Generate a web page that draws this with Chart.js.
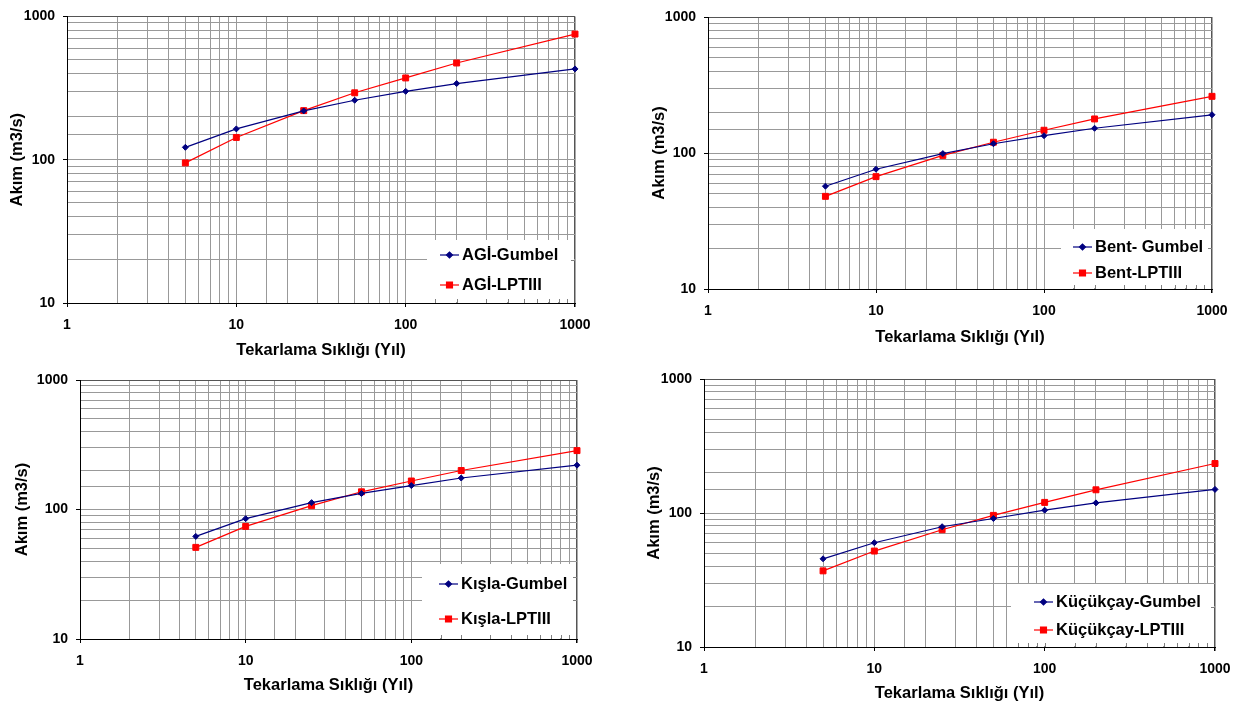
<!DOCTYPE html>
<html>
<head>
<meta charset="utf-8">
<script src="https://cdn.jsdelivr.net/npm/chart.js@4.4.1/dist/chart.umd.min.js"></script>
<style>
  html, body { margin: 0; padding: 0; background: #fff; }
  body { width: 1242px; height: 706px; position: relative; overflow: hidden; }
  .panel { position: absolute; }
  .panel canvas { display: block; }
</style>
</head>
<body>
<div class="panel" style="left:0;top:0"><canvas id="agi" width="620" height="360"></canvas></div>
<div class="panel" style="left:620px;top:0"><canvas id="bent" width="622" height="360"></canvas></div>
<div class="panel" style="left:0;top:360px"><canvas id="kisla" width="620" height="346"></canvas></div>
<div class="panel" style="left:620px;top:360px"><canvas id="kucukcay" width="622" height="346"></canvas></div>
<script>
// return periods (years)
const periods = [5, 10, 25, 50, 100, 200, 1000];
const xTickLabels = ['1', '10', '100', '1000'];
const yTickLabels = ['10', '100', '1000'];

// flows (m3/s)
const agiGumbel = [122, 164, 219, 260, 300, 340, 430];
const agiLpt = [95, 143, 220, 293, 372, 473, 753];
const bentGumbel = [57, 76, 99, 117, 134, 152, 191];
const bentLpt = [48, 67, 96, 120, 147, 178, 261];
const kislaGumbel = [62, 85, 113, 133, 153, 175, 220];
const kislaLpt = [51, 74, 107, 137, 166, 200, 285];
const kucukGumbel = [45.5, 60, 79, 91, 105, 119, 150];
const kucukLpt = [37, 52, 75, 96, 120, 149, 234];

const xTitle = 'Tekarlama Sıklığı (Yıl)';
const yTitle = 'Akım (m3/s)';

const FONT = '"Liberation Sans", Arial, sans-serif';
const GRID = '#999999';

const isDecade = v => [1, 10, 100, 1000].includes(v);

// legend drawn inside the plot area, bottom right corner, on white
const insetLegend = {
    id: 'insetLegend',
    afterDraw(chart, args, opts) {
        const { ctx, chartArea: a } = chart;
        const left = a.right - opts.w;
        const top = a.bottom - opts.h;
        ctx.save();
        ctx.fillStyle = '#fff';
        ctx.fillRect(left, top, opts.w - 1, opts.h - 1);

        // small inner tick marks along bottom and right edges
        ctx.strokeStyle = '#808080';
        ctx.lineWidth = 1;
        chart.scales.x.ticks.forEach(t => {
            const px = Math.round(chart.scales.x.getPixelForValue(t.value)) + 0.5;
            if (px > left && px < a.right - 1) {
                ctx.beginPath();
                ctx.moveTo(px, a.bottom);
                ctx.lineTo(px, a.bottom - 4);
                ctx.stroke();
            }
        });
        chart.scales.y.ticks.forEach(t => {
            const py = Math.round(chart.scales.y.getPixelForValue(t.value)) + 0.5;
            if (py > top && py < a.bottom - 1) {
                ctx.beginPath();
                ctx.moveTo(a.right, py);
                ctx.lineTo(a.right - 4, py);
                ctx.stroke();
            }
        });

        const rows = [opts.row1, opts.row2];
        chart.data.datasets.forEach((ds, i) => {
            const y = top + rows[i];
            const x0 = left + opts.sample;
            ctx.strokeStyle = ds.borderColor;
            ctx.lineWidth = 1.2;
            ctx.beginPath();
            ctx.moveTo(x0, y);
            ctx.lineTo(x0 + 19, y);
            ctx.stroke();
            Chart.helpers.drawPoint(ctx, {
                pointStyle: ds.pointStyle,
                radius: ds.pointRadius,
                borderWidth: 1
            }, x0 + 9.5, y);
            ctx.fillStyle = ds.borderColor;
            ctx.fill();
            ctx.fillStyle = '#000';
            ctx.font = 'bold 16.5px ' + FONT;
            ctx.textBaseline = 'middle';
            ctx.textAlign = 'left';
            ctx.fillText(ds.label, left + opts.text, y);
        });
        ctx.restore();
    }
};

function makeChart(id, names, gumbel, lpt, f) {
    const ctx = document.getElementById(id).getContext('2d');
    return new Chart(ctx, {
        type: 'scatter',
        data: {
            datasets: [{
                label: names[0],
                data: periods.map((p, i) => ({ x: p, y: gumbel[i] })),
                showLine: true,
                clip: false,
                borderColor: '#000080',
                backgroundColor: '#000080',
                borderWidth: 1.2,
                pointStyle: 'rectRot',
                pointRadius: 3,
                pointBorderWidth: 1
            }, {
                label: names[1],
                data: periods.map((p, i) => ({ x: p, y: lpt[i] })),
                showLine: true,
                clip: false,
                borderColor: '#ff0000',
                backgroundColor: '#ff0000',
                borderWidth: 1.2,
                pointStyle: 'rect',
                pointRadius: 4.2,
                pointBorderWidth: 1
            }]
        },
        options: {
            responsive: false,
            animation: false,
            layout: { padding: { left: 0, top: f.top, right: f.right, bottom: 0 } },
            scales: {
                x: {
                    type: 'logarithmic',
                    min: 1,
                    max: 1000,
                    afterFit: s => { s.height = f.xHeight; },
                    border: { color: '#000', width: 1 },
                    grid: {
                        color: c => c.tick && c.tick.value === 1000 ? '#555' : GRID,
                        lineWidth: c => c.tick && c.tick.value === 1000 ? 1.5 : 1,
                        drawTicks: true,
                        tickLength: 4,
                        tickColor: c => c.tick && isDecade(c.tick.value) ? '#000' : 'rgba(0,0,0,0)'
                    },
                    ticks: {
                        autoSkip: false,
                        maxRotation: 0,
                        padding: 10,
                        color: '#000',
                        font: { family: FONT, size: 14, weight: 'bold' },
                        callback: v => xTickLabels.includes(String(v)) ? String(v) : ''
                    },
                    title: {
                        display: true,
                        text: xTitle,
                        color: '#000',
                        font: { family: FONT, size: 16.5, weight: 'bold' },
                        padding: { top: 0, bottom: f.xTitlePad }
                    }
                },
                y: {
                    type: 'logarithmic',
                    min: 10,
                    max: 1000,
                    afterFit: s => { s.width = f.yWidth; },
                    border: { color: '#000', width: 1 },
                    grid: {
                        color: c => c.tick && c.tick.value === 1000 ? '#555' : GRID,
                        drawTicks: true,
                        tickLength: 4,
                        tickColor: c => c.tick && isDecade(c.tick.value) ? '#000' : 'rgba(0,0,0,0)'
                    },
                    ticks: {
                        autoSkip: false,
                        padding: 8,
                        color: '#000',
                        font: { family: FONT, size: 14, weight: 'bold' },
                        callback: v => yTickLabels.includes(String(v)) ? String(v) : ''
                    },
                    title: {
                        display: true,
                        text: yTitle,
                        color: '#000',
                        font: { family: FONT, size: 16.5, weight: 'bold' },
                        padding: { top: f.yTitlePad, bottom: 0 }
                    }
                }
            },
            plugins: {
                legend: { display: false },
                tooltip: { enabled: false },
                insetLegend: f.legend
            }
        },
        plugins: [insetLegend]
    });
}

makeChart('agi', ['AGİ-Gumbel', 'AGİ-LPTIII'], agiGumbel, agiLpt, {
    yWidth: 67, xHeight: 57, top: 16, right: 45, yTitlePad: 8, xTitlePad: 0,
    legend: { w: 148, h: 63, row1: 15, row2: 45, sample: 13, text: 35 }
});
makeChart('bent', ['Bent- Gumbel', 'Bent-LPTIII'], bentGumbel, bentLpt, {
    yWidth: 88, xHeight: 71, top: 17, right: 30, yTitlePad: 30, xTitlePad: 13,
    legend: { w: 151, h: 60, row1: 18, row2: 44, sample: 12, text: 34 }
});
makeChart('kisla', ['Kışla-Gumbel', 'Kışla-LPTIII'], kislaGumbel, kislaLpt, {
    yWidth: 80, xHeight: 67, top: 20, right: 43, yTitlePad: 13, xTitlePad: 11,
    legend: { w: 155, h: 75, row1: 20, row2: 55, sample: 17, text: 39 }
});
makeChart('kucukcay', ['Küçükçay-Gumbel', 'Küçükçay-LPTIII'], kucukGumbel, kucukLpt, {
    yWidth: 84, xHeight: 59, top: 19, right: 27, yTitlePad: 25, xTitlePad: 3,
    legend: { w: 204, h: 63, row1: 18, row2: 46, sample: 23, text: 45 }
});
</script>
</body>
</html>
